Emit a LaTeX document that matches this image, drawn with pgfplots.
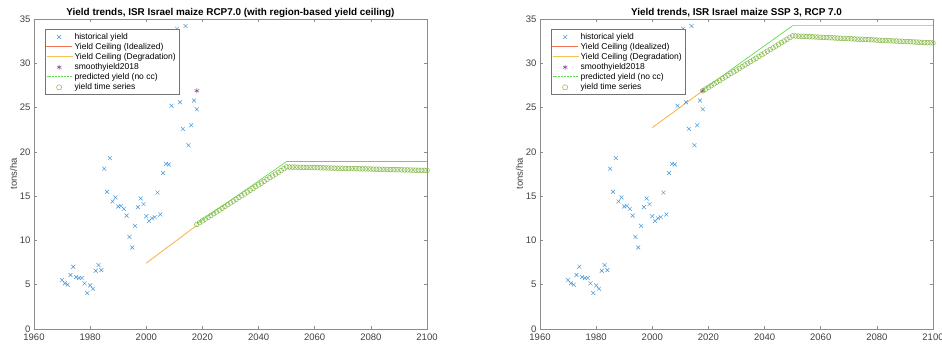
\documentclass[border=0pt]{standalone}
\usepackage{pgfplots}
\pgfplotsset{compat=1.18}
\usepackage{pgfplotstable}
\usepackage{fontspec}
\setmainfont{Liberation Sans}

\definecolor{mblue}{rgb}{0.25,0.58,0.85}
\definecolor{mred}{rgb}{0.93,0.45,0.32}
\definecolor{myellow}{rgb}{0.96,0.76,0.35}
\definecolor{mpurple}{rgb}{0.55,0.25,0.6}
\definecolor{mgreen}{rgb}{0.52,0.72,0.28}
\definecolor{lgreen}{rgb}{0.38,0.86,0.32}

\pgfplotstableread{
year val
1970 5.53
1971 5.15
1972 5.00
1973 6.09
1974 7.03
1975 5.86
1976 5.75
1977 5.75
1978 5.15
1979 4.06
1980 4.92
1981 4.55
1982 6.58
1983 7.22
1984 6.65
1985 18.1
1986 15.5
1987 19.3
1988 14.4
1989 14.85
1990 13.83
1991 13.9
1992 13.57
1993 12.8
1994 10.4
1995 9.2
1996 11.65
1997 13.76
1998 14.74
1999 14.1
2000 12.74
2001 12.2
2002 12.5
2003 12.63
2004 15.4
2005 12.93
2006 17.6
2007 18.65
2008 18.57
2009 25.2
2011 33.9
2012 25.6
2013 22.6
2014 34.2
2015 20.75
2016 23.0
2017 25.8
2018 24.8
}\histtab

\pgfplotstableread{
year val
2018 11.80
2019 12.00
2020 12.21
2021 12.41
2022 12.61
2023 12.82
2024 13.02
2025 13.22
2026 13.42
2027 13.63
2028 13.83
2029 14.03
2030 14.24
2031 14.44
2032 14.64
2033 14.85
2034 15.05
2035 15.25
2036 15.46
2037 15.66
2038 15.86
2039 16.07
2040 16.27
2041 16.47
2042 16.67
2043 16.88
2044 17.08
2045 17.28
2046 17.49
2047 17.69
2048 17.89
2049 18.10
2050 18.30
2051 18.29
2052 18.28
2053 18.28
2054 18.27
2055 18.26
2056 18.25
2057 18.24
2058 18.24
2059 18.23
2060 18.22
2061 18.21
2062 18.20
2063 18.20
2064 18.19
2065 18.18
2066 18.17
2067 18.16
2068 18.16
2069 18.15
2070 18.14
2071 18.13
2072 18.12
2073 18.12
2074 18.11
2075 18.10
2076 18.09
2077 18.08
2078 18.08
2079 18.07
2080 18.06
2081 18.05
2082 18.04
2083 18.04
2084 18.03
2085 18.02
2086 18.01
2087 18.00
2088 18.00
2089 17.99
2090 17.98
2091 17.97
2092 17.96
2093 17.96
2094 17.95
2095 17.94
2096 17.93
2097 17.92
2098 17.92
2099 17.91
2100 17.90
}\tsleft

\pgfplotstableread{
year val
2018 26.90
2019 27.09
2020 27.29
2021 27.48
2022 27.68
2023 27.87
2024 28.06
2025 28.26
2026 28.45
2027 28.64
2028 28.84
2029 29.03
2030 29.23
2031 29.42
2032 29.61
2033 29.81
2034 30.00
2035 30.19
2036 30.39
2037 30.58
2038 30.78
2039 30.97
2040 31.16
2041 31.36
2042 31.55
2043 31.74
2044 31.94
2045 32.13
2046 32.33
2047 32.52
2048 32.71
2049 32.91
2050 33.10
2051 33.08
2052 33.07
2053 33.05
2054 33.04
2055 33.02
2056 33.00
2057 32.99
2058 32.97
2059 32.96
2060 32.94
2061 32.92
2062 32.91
2063 32.89
2064 32.88
2065 32.86
2066 32.84
2067 32.83
2068 32.81
2069 32.80
2070 32.78
2071 32.76
2072 32.75
2073 32.73
2074 32.72
2075 32.70
2076 32.68
2077 32.67
2078 32.65
2079 32.64
2080 32.62
2081 32.60
2082 32.59
2083 32.57
2084 32.56
2085 32.54
2086 32.52
2087 32.51
2088 32.49
2089 32.48
2090 32.46
2091 32.44
2092 32.43
2093 32.41
2094 32.40
2095 32.38
2096 32.36
2097 32.35
2098 32.33
2099 32.32
2100 32.30
}\tsright

\newcommand{\legrule}[1]{\node[anchor=west, inner sep=0pt, text=#1] at (0pt,0pt) {\rule[-0.3pt]{26pt}{0.6pt}};}
\newcommand{\legdash}[1]{\node[anchor=west, inner sep=0pt, text=#1] at (0pt,0pt) {\hbox to 26pt{\xleaders\hbox{\rule[-0.3pt]{2pt}{0.6pt}\hspace{0.8pt}}\hfil}};}

\pgfplotsset{
  myax/.style={
    width=393pt, height=310pt, scale only axis,
    xmin=1960, xmax=2100, ymin=0, ymax=35,
    xtick={1960,1980,...,2100}, ytick={0,5,...,35},
    tick align=inside, major tick length=3pt,
    axis line style={black!45, line width=0.5pt},
    every tick/.style={black!45, line width=0.5pt},
    tick label style={font=\fontsize{9.5}{11}\selectfont, text=black!75},
    x tick label style={/pgf/number format/1000 sep={}, yshift=-1pt},
    /pgf/number format/assume math mode=true,
    ylabel={tons/ha},
    ylabel style={font=\fontsize{9.5}{11}\selectfont, text=black!75, yshift=-4pt},
    title style={font=\bfseries\fontsize{9.9}{11}\selectfont, yshift=-8pt},
    legend style={at={(0.027,0.966)}, anchor=north west, draw=none,
      fill=white, postaction={draw=black!55, line width=0.5pt},
      font=\fontsize{8.5}{10}\selectfont, cells={anchor=west},
      inner sep=1.5pt, row sep=-1.6pt},
  },
  hist/.style={only marks, mark=x, mark size=2.8pt, color=mblue, line width=0.45pt,
    legend image code/.code={\draw plot[mark=x, mark size=2.8pt, mark options={color=mblue, draw=mblue, line width=0.45pt}] coordinates {(13pt,0pt)};}},
  ideal/.style={color=mred, line width=0.35pt,
    legend image code/.code={\legrule{mred}}},
  degr/.style={color=myellow, line width=0.8pt,
    legend image code/.code={\legrule{myellow}}},
  smooth/.style={only marks, mark=asterisk, mark size=2.6pt, color=mpurple, line width=0.5pt,
    legend image code/.code={\draw plot[mark=asterisk, mark size=2.6pt, mark options={color=mpurple, draw=mpurple, line width=0.5pt}] coordinates {(13pt,0pt)};}},
  pred/.style={color=lgreen, line width=0.7pt,
    legend image code/.code={\legdash{lgreen}}},
  tser/.style={only marks, mark=o, mark size=2.4pt, color=mgreen, line width=0.5pt,
    legend image code/.code={\draw plot[mark=o, mark size=2.6pt, mark options={color=mgreen, draw=mgreen, line width=0.5pt}] coordinates {(13pt,0pt)};}},
}

\begin{document}
\begin{tikzpicture}
\useasboundingbox (0,0) rectangle (942pt,345pt);
\begin{axis}[myax, at={(34pt,16pt)}, anchor=south west,
  title={Yield trends, ISR Israel maize RCP7.0 (with region-based yield ceiling)}]
\addplot[hist] table[x=year,y=val] {\histtab};
\addlegendentry{historical yield}
\addplot[ideal] coordinates {(2000,7.44) (2018,11.7)};
\addlegendentry{Yield Ceiling (Idealized)}
\addplot[degr] coordinates {(2000,7.44) (2018,11.7)};
\addlegendentry{Yield Ceiling (Degradation)}
\addplot[smooth] coordinates {(2018,26.9)};
\addlegendentry{smoothyield2018}
\addplot[pred] coordinates {(2018,11.9) (2050,18.9) (2100,18.9)};
\addlegendentry{predicted yield (no cc)}
\addplot[tser] table[x=year,y=val] {\tsleft};
\addlegendentry{yield time series}
\end{axis}
\begin{axis}[myax, at={(540pt,16pt)}, anchor=south west,
  title={Yield trends, ISR Israel maize SSP 3, RCP 7.0}]
\addplot[hist] table[x=year,y=val] {\histtab};
\addlegendentry{historical yield}
\addplot[ideal] coordinates {(2000,22.74) (2018,26.9)};
\addlegendentry{Yield Ceiling (Idealized)}
\addplot[degr] coordinates {(2000,22.74) (2018,26.9)};
\addlegendentry{Yield Ceiling (Degradation)}
\addplot[smooth] coordinates {(2018,26.9)};
\addlegendentry{smoothyield2018}
\addplot[pred] coordinates {(2018,27.0) (2050,34.25) (2100,34.25)};
\addlegendentry{predicted yield (no cc)}
\addplot[tser] table[x=year,y=val] {\tsright};
\addlegendentry{yield time series}
\end{axis}
\end{tikzpicture}
\end{document}
